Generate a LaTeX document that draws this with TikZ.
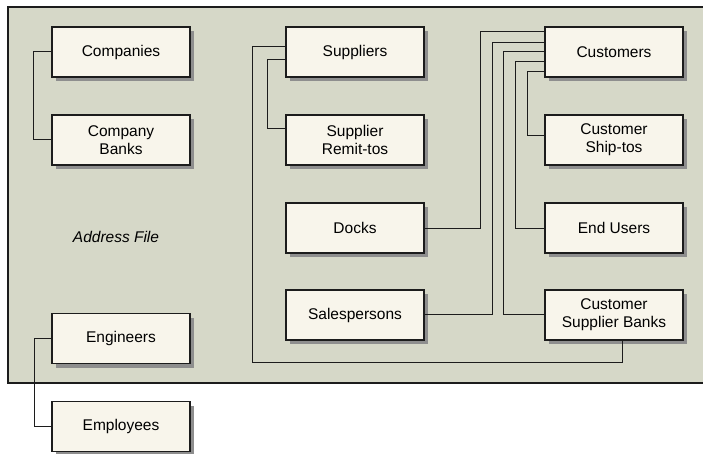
\documentclass[tikz,border=0pt]{standalone}
\usepackage{fontspec}
\setmainfont{Liberation Sans}
\usepackage{xcolor}
\usetikzlibrary{positioning, calc, shadows}
\definecolor{panelfill}{HTML}{D6D8C8}
\definecolor{boxfill}{HTML}{F8F5EB}
\definecolor{shadowgray}{HTML}{8E8E8E}
\definecolor{linecolor}{HTML}{1C1C1C}

\begin{document}
\begin{tikzpicture}[
    x=1pt, y=-1pt,
    node distance=38pt,
    entity/.style={rectangle, draw=linecolor, fill=boxfill, line width=1.3pt,
                minimum width=138pt, minimum height=50pt, align=center,
                outer sep=0pt, inner sep=2pt,
                font=\fontsize{15.5}{17.7}\selectfont,
                drop shadow={shadow xshift=4pt, shadow yshift=-4pt,
                             fill=shadowgray, opacity=1}},
    link/.style={draw=linecolor, line width=1pt}
]
\useasboundingbox (0,0) rectangle (703,454);

% address file panel
\fill[panelfill] (8,7) rectangle (712,383);
\draw[linecolor, line width=1.3pt] (712,7) -- (8,7) -- (8,383) -- (712,383);
\node[font=\fontsize{15.5}{17.7}\selectfont\itshape] (addr) at (116,237) {Address File};

% left column
\node[entity] (companies) at (121,52) {Companies};
\node[entity, below=of companies] (compbanks) {Company\\Banks};
\node[entity] (engineers) at (121,338.5) {Engineers};
\node[entity, below=of engineers] (employees) {Employees};

% middle column
\node[entity, right=96pt of companies] (suppliers) {Suppliers};
\node[entity, below=of suppliers] (remittos) {Supplier\\Remit-tos};
\node[entity, below=of remittos] (docks) {Docks};
\node[entity, below=37pt of docks] (salespersons) {Salespersons};

% right column
\node[entity, right=121pt of suppliers] (customers) {Customers};
\node[entity, below=of customers] (shiptos) {Customer\\Ship-tos};
\node[entity, below=of shiptos] (endusers) {End Users};
\node[entity, below=37pt of endusers] (csbanks) {Customer\\Supplier Banks};

% connectors
\draw[link] (companies.west) -- ++(-19,0) |- (compbanks.west);
\draw[link] (engineers.west) -- ++(-18,0) |- (employees.west);

\draw[link] ($(suppliers.west)+(0,-5)$) -- ++(-34,0) |- ($(csbanks.south)+(8,22)$)
    -- ($(csbanks.south)+(8,0)$);
\draw[link] ($(suppliers.west)+(0,8)$) -- ++(-19,0) |- ($(remittos.west)+(0,-11)$);

\draw[link] (docks.east) -- ++(56,0) |- ($(customers.west)+(0,-20)$);
\draw[link] ($(salespersons.east)+(0,-1)$) -- ++(68,0) |- ($(customers.west)+(0,-9)$);
\draw[link] ($(csbanks.west)+(0,-1)$) -- ++(-42,0) |- (customers.west);
\draw[link] (endusers.west) -- ++(-30,0) |- ($(customers.west)+(0,10)$);
\draw[link] ($(shiptos.west)+(0,-4)$) -- ++(-18,0) |- ($(customers.west)+(0,20)$);

\end{tikzpicture}
\end{document}
